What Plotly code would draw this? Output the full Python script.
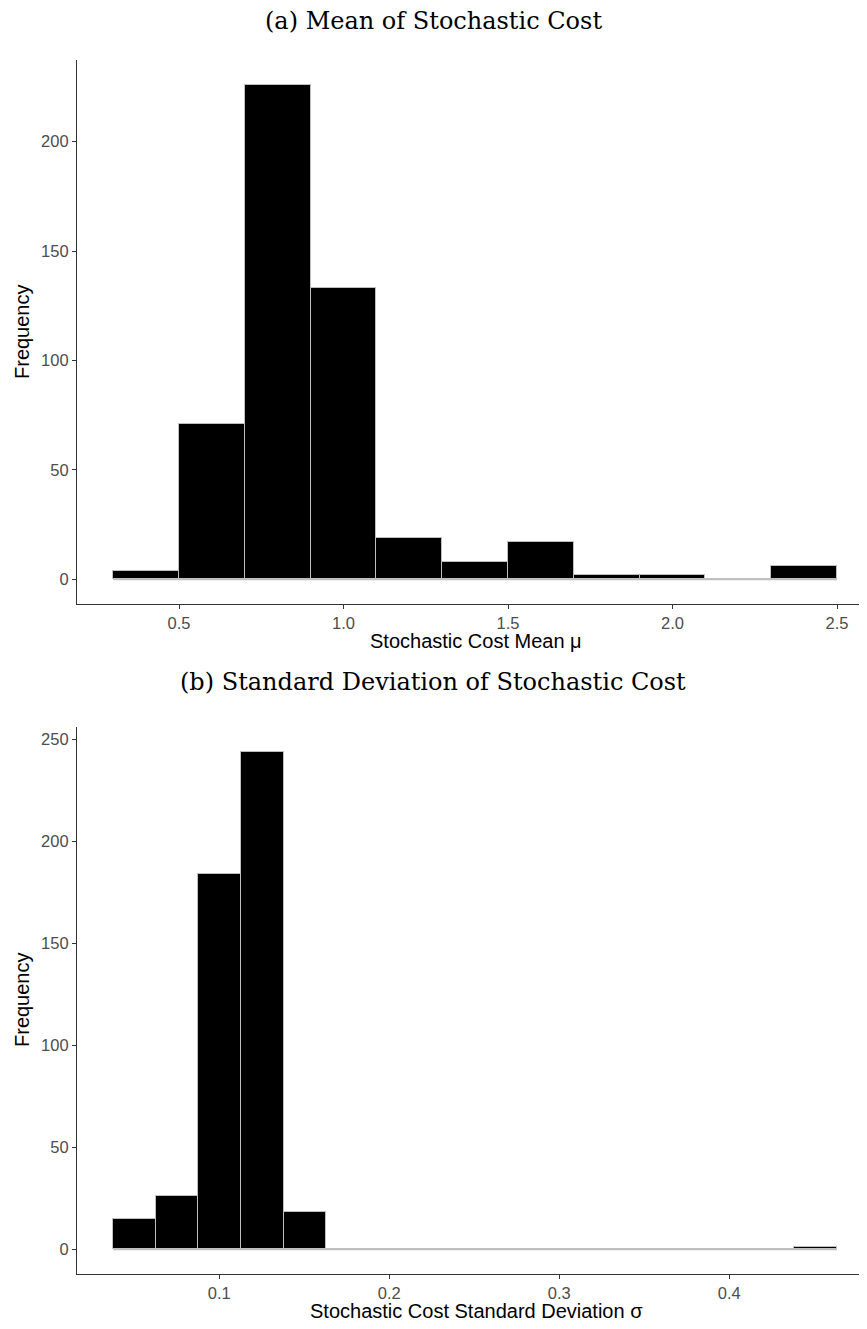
import plotly.graph_objects as go

# ---- Data: panel (a) mean of stochastic cost ----
a_edges = [0.3, 0.5, 0.7, 0.9, 1.1, 1.3, 1.5, 1.7, 1.9, 2.1, 2.3, 2.5]
a_counts = [4, 71, 226, 133, 19, 8, 17, 2, 2, 0, 6]
a_ticks = [0.5, 1.0, 1.5, 2.0, 2.5]
a_ticktext = ["0.5", "1.0", "1.5", "2.0", "2.5"]
a_yticks = [0, 50, 100, 150, 200]

# ---- Data: panel (b) standard deviation of stochastic cost ----
b_edges = [0.0376, 0.0626, 0.0877, 0.1127, 0.1378, 0.1628, 0.1879, 0.2129,
           0.2379, 0.2630, 0.2880, 0.3131, 0.3381, 0.3631, 0.3882, 0.4132,
           0.4383, 0.4633]
b_counts = [15, 26, 184, 244, 18, 0, 0, 0, 0, 0, 0, 0, 0, 0, 0, 0, 1]
b_ticks = [0.1, 0.2, 0.3, 0.4]
b_ticktext = ["0.1", "0.2", "0.3", "0.4"]
b_yticks = [0, 50, 100, 150, 200, 250]

title_a = "(a) Mean of Stochastic Cost"
title_b = "(b) Standard Deviation of Stochastic Cost"
xlab_a = "Stochastic Cost Mean μ"
xlab_b = "Stochastic Cost Standard Deviation σ"
ylab = "Frequency"

# page body has an 8px default margin; size the figure to fit the window
OFF = 8
W, H = 867 - OFF, 1329 - OFF
ML, MR, MT, MB = 77 - OFF, 0, 60 - OFF, 55
PW, PH = W - ML - MR, H - MT - MB

OUTLINE = "#BEBEBE"
AXIS = "#333333"
TICKFONT = dict(family="Liberation Sans, Arial, sans-serif", size=16.5, color="#4D4D4D")
LABFONT = dict(family="Liberation Sans, Arial, sans-serif", size=20, color="black")
TITLEFONT = dict(family="DejaVu Serif, serif", size=24, color="black")


def px_x(xp):
    return (xp - OFF - ML) / PW


def px_y(yp):
    return (H - MB - (yp - OFF)) / PH


def bars(edges, counts, xa, ya):
    mids = [(edges[i] + edges[i + 1]) / 2 for i in range(len(counts))]
    widths = [edges[i + 1] - edges[i] for i in range(len(counts))]
    base = go.Scatter(x=[edges[0], edges[-1]], y=[0, 0], mode="lines",
                      line=dict(color=OUTLINE, width=2), xaxis=xa, yaxis=ya,
                      hoverinfo="skip", showlegend=False)
    b = go.Bar(x=mids, y=counts, width=widths, xaxis=xa, yaxis=ya,
               marker=dict(color="black", line=dict(color=OUTLINE, width=1)),
               showlegend=False)
    return [base, b]


fig = go.Figure()
for t in bars(a_edges, a_counts, "x", "y") + bars(b_edges, b_counts, "x2", "y2"):
    fig.add_trace(t)

common = dict(showgrid=False, zeroline=False, showline=True, linecolor=AXIS,
              linewidth=1.1, ticks="outside", ticklen=4, tickcolor=AXIS,
              tickwidth=1, tickfont=TICKFONT, mirror=False, automargin=False)

fig.update_layout(
    width=W, height=H,
    margin=dict(l=ML, r=MR, t=MT, b=MB, autoexpand=False),
    paper_bgcolor="white", plot_bgcolor="white",
    bargap=0,
    xaxis=dict(common, domain=[0, 1], anchor="y",
               range=[0.19, 2.591], tickvals=a_ticks, ticktext=a_ticktext),
    yaxis=dict(common, domain=[px_y(604), px_y(60)], anchor="x",
               range=[-11.3, 237.3], tickvals=a_yticks),
    xaxis2=dict(common, domain=[0, 1], anchor="y2",
                range=[0.0163, 0.481], tickvals=b_ticks, ticktext=b_ticktext),
    yaxis2=dict(common, domain=[px_y(1274), px_y(727)], anchor="x2",
                range=[-12.2, 256.2], tickvals=b_yticks),
    annotations=[
        dict(text=title_a, x=px_x(433), y=px_y(21), xref="paper", yref="paper",
             xanchor="center", yanchor="middle", showarrow=False, font=TITLEFONT),
        dict(text=title_b, x=px_x(433), y=px_y(682), xref="paper", yref="paper",
             xanchor="center", yanchor="middle", showarrow=False, font=TITLEFONT),
        dict(text=xlab_a, x=px_x(476), y=px_y(641), xref="paper", yref="paper",
             xanchor="center", yanchor="middle", showarrow=False, font=LABFONT),
        dict(text=xlab_b, x=px_x(476), y=px_y(1311), xref="paper", yref="paper",
             xanchor="center", yanchor="middle", showarrow=False, font=LABFONT),
        dict(text=ylab, x=px_x(22), y=px_y(332), xref="paper", yref="paper",
             xanchor="center", yanchor="middle", showarrow=False, font=LABFONT,
             textangle=-90),
        dict(text=ylab, x=px_x(22), y=px_y(1000), xref="paper", yref="paper",
             xanchor="center", yanchor="middle", showarrow=False, font=LABFONT,
             textangle=-90),
    ],
)

fig.write_html("out.html")
